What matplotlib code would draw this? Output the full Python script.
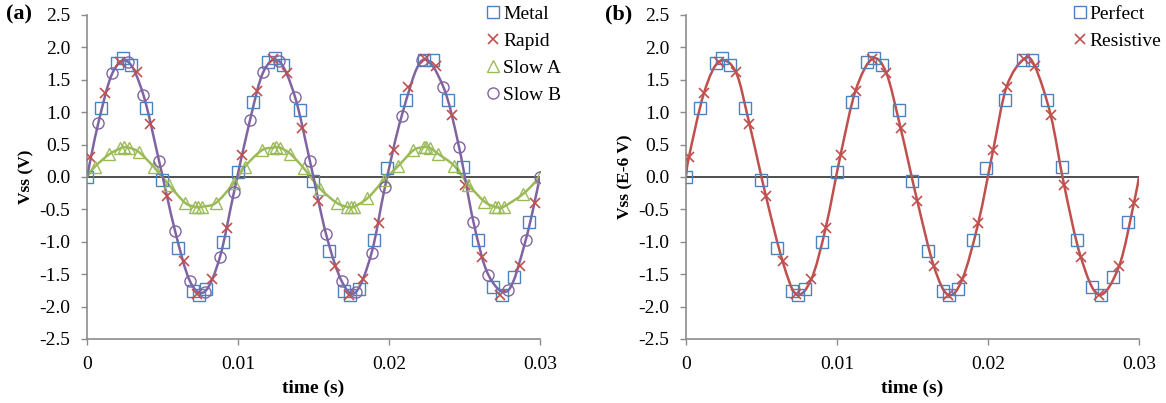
"""Plot steady-state voltage against time for the four materials and the two wall models."""

from __future__ import annotations

import matplotlib

matplotlib.use("Agg")
import matplotlib.pyplot as plt
from matplotlib.lines import Line2D
from matplotlib.patches import PathPatch
from matplotlib.path import Path


METAL_T = [0.0, 0.0009, 0.0020, 0.0024, 0.0029, 0.0039, 0.0050, 0.0060, 0.0070, 0.0074, 0.0079, 0.0090,
           0.0100, 0.0110, 0.0120, 0.01245, 0.0130, 0.0141, 0.0150, 0.0160, 0.0170, 0.0174, 0.0180, 0.0190,
           0.0199, 0.0211, 0.0223, 0.0229, 0.0239, 0.0249, 0.0259, 0.0269, 0.02746, 0.0283, 0.0293]
METAL_V = [0.0, 1.07, 1.76, 1.83, 1.73, 1.07, -0.05, -1.10, -1.76, -1.82, -1.73, -1.00,
           0.07, 1.15, 1.77, 1.83, 1.73, 1.03, -0.07, -1.14, -1.76, -1.82, -1.73, -0.98,
           0.13, 1.18, 1.80, 1.80, 1.19, 0.15, -0.97, -1.70, -1.82, -1.55, -0.69]

RAPID_T = [0.0002, 0.0012, 0.0022, 0.0033, 0.0042, 0.0053, 0.0064, 0.0073, 0.0083, 0.00925,
           0.01024, 0.01123, 0.01233, 0.01326, 0.01422, 0.01532, 0.01642, 0.01737, 0.0183, 0.01936,
           0.02035, 0.02123, 0.02238, 0.0231, 0.02416, 0.02504, 0.02614, 0.02735, 0.02868, 0.02967]
RAPID_V = [0.31, 1.30, 1.78, 1.62, 0.82, -0.30, -1.30, -1.81, -1.58, -0.79,
           0.34, 1.33, 1.82, 1.61, 0.75, -0.37, -1.38, -1.82, -1.58, -0.71,
           0.42, 1.39, 1.82, 1.71, 0.95, -0.12, -1.23, -1.82, -1.38, -0.40]

SLOW_A_T = [0.0, 0.00053, 0.00148, 0.0022, 0.00245, 0.0028, 0.00346, 0.00444, 0.00545, 0.0065, 0.00715,
            0.00737, 0.0076, 0.00854, 0.00974, 0.01046, 0.01157, 0.01232, 0.01254, 0.0128, 0.01345,
            0.01437, 0.01543, 0.01654, 0.01722, 0.01748, 0.0177, 0.01857, 0.01967, 0.02062, 0.02161,
            0.0223, 0.02245, 0.0227, 0.02323, 0.02433, 0.02526, 0.02632, 0.0270, 0.02725, 0.0276,
            0.0289, 0.0300]
SLOW_A_V = [0.0, 0.16, 0.35, 0.44, 0.46, 0.45, 0.38, 0.15, -0.13, -0.40, -0.46,
            -0.47, -0.46, -0.40, -0.09, 0.16, 0.41, 0.45, 0.46, 0.45, 0.36,
            0.13, -0.18, -0.40, -0.46, -0.47, -0.46, -0.33, -0.05, 0.17, 0.41,
            0.46, 0.46, 0.45, 0.36, 0.17, -0.12, -0.38, -0.46, -0.47, -0.46,
            -0.26, 0.0]

SLOW_B_T = [0.0, 0.00075, 0.00168, 0.0027, 0.00373, 0.00477, 0.00583, 0.00682, 0.0078, 0.0088, 0.00974,
            0.0108, 0.01168, 0.0127, 0.01377, 0.01477, 0.01583, 0.01687, 0.0178, 0.01885, 0.01974,
            0.02084, 0.0222, 0.0236, 0.02464, 0.02559, 0.02658, 0.0279, 0.02906, 0.0300]
SLOW_B_V = [0.0, 0.83, 1.60, 1.78, 1.27, 0.25, -0.83, -1.61, -1.77, -1.24, -0.23,
            0.88, 1.62, 1.79, 1.24, 0.24, -0.88, -1.61, -1.78, -1.17, -0.15,
            0.94, 1.80, 1.39, 0.46, -0.69, -1.51, -1.75, -0.97, 0.0]

# panel (b): same sampling as Metal / Rapid, in units of 1e-6 V
PERFECT_T = METAL_T
PERFECT_V = METAL_V
RESISTIVE_T = RAPID_T
RESISTIVE_V = RAPID_V
RESISTIVE_ENDS_T = [0.0, 0.03]
RESISTIVE_ENDS_V = [0.0, 0.0]

X_TICKS = [0.0, 0.01, 0.02, 0.03]
X_TICK_LABELS = ["0", "0.01", "0.02", "0.03"]
Y_TICKS = [-2.5, -2.0, -1.5, -1.0, -0.5, 0.0, 0.5, 1.0, 1.5, 2.0, 2.5]

BLUE = "#4F81BD"
RED = "#C0504D"
GREEN = "#9BBB59"
PURPLE = "#8064A2"
SPINE = "#8C8C8C"
SERIF = "Liberation Serif"


def main() -> int:
    plt.rcParams["font.family"] = SERIF
    plt.rcParams["font.size"] = 14

    fig = plt.figure(figsize=(11.66, 4.03), dpi=100)
    ax_a = fig.add_axes((0.0746, 0.159, 0.3885, 0.804))
    ax_b = fig.add_axes((0.5883, 0.159, 0.3885, 0.804))

    _smooth_line(ax_a, SLOW_A_T, SLOW_A_V, GREEN)
    _smooth_line(ax_a, SLOW_B_T, SLOW_B_V, PURPLE)
    _markers(ax_a, METAL_T, METAL_V, "s", BLUE)
    _markers(ax_a, RAPID_T, RAPID_V, "x", RED)
    _markers(ax_a, SLOW_A_T[1:], SLOW_A_V[1:], "^", GREEN)
    _markers(ax_a, SLOW_B_T[1:], SLOW_B_V[1:], "o", PURPLE)

    line_t = RESISTIVE_ENDS_T[:1] + RESISTIVE_T + RESISTIVE_ENDS_T[1:]
    line_v = RESISTIVE_ENDS_V[:1] + RESISTIVE_V + RESISTIVE_ENDS_V[1:]
    _smooth_line(ax_b, line_t, line_v, RED)
    _markers(ax_b, PERFECT_T, PERFECT_V, "s", BLUE)
    _markers(ax_b, RESISTIVE_T, RESISTIVE_V, "x", RED)

    for ax, ylabel in ((ax_a, "Vss (V)"), (ax_b, "Vss (E-6 V)")):
        _style_axes(ax, ylabel)

    _legend(ax_a, [("Metal", "s", BLUE), ("Rapid", "x", RED), ("Slow A", "^", GREEN), ("Slow B", "o", PURPLE)],
            (0.879, 1.03))
    _legend(ax_b, [("Perfect", "s", BLUE), ("Resistive", "x", RED)], (0.852, 1.03))

    fig.text(0.005, 0.963, "(a)", fontsize=16, fontweight="bold", va="center")
    fig.text(0.519, 0.963, "(b)", fontsize=16, fontweight="bold", va="center")

    fig.savefig("out.png", dpi=100)
    plt.close(fig)
    return 0


def _smooth_line(ax, xs, ys, color):
    # Catmull-Rom through the points, drawn as cubic Bezier segments (like a spreadsheet "smoothed line")
    pts = list(zip(xs, ys))
    verts = [pts[0]]
    codes = [Path.MOVETO]
    for i in range(len(pts) - 1):
        p0 = pts[max(i - 1, 0)]
        p1 = pts[i]
        p2 = pts[i + 1]
        p3 = pts[min(i + 2, len(pts) - 1)]
        c1 = (p1[0] + (p2[0] - p0[0]) / 6.0, p1[1] + (p2[1] - p0[1]) / 6.0)
        c2 = (p2[0] - (p3[0] - p1[0]) / 6.0, p2[1] - (p3[1] - p1[1]) / 6.0)
        verts.extend([c1, c2, p2])
        codes.extend([Path.CURVE4] * 3)
    patch = PathPatch(Path(verts, codes), facecolor="none", edgecolor=color, linewidth=1.8, zorder=2)
    ax.add_patch(patch)


def _markers(ax, xs, ys, marker, color):
    if marker == "x":
        ax.plot(xs, ys, linestyle="none", marker="x", markersize=7.5, markeredgewidth=1.2, color=color, zorder=3)
    else:
        ax.plot(xs, ys, linestyle="none", marker=marker, markersize=8, markeredgewidth=1.0,
                markerfacecolor="none", markeredgecolor=color, zorder=3)


def _style_axes(ax, ylabel):
    ax.set_xlim(0.0, 0.03)
    ax.set_ylim(-2.5, 2.5)
    ax.axhline(0.0, color="#404040", linewidth=1.3, zorder=1)
    ax.set_xticks(X_TICKS)
    ax.set_xticklabels(X_TICK_LABELS)
    ax.set_yticks(Y_TICKS)
    ax.set_yticklabels([f"{v:.1f}" for v in Y_TICKS])
    ax.tick_params(direction="out", length=4, width=1.0, color=SPINE, labelsize=14, pad=8)
    for side in ("top", "right"):
        ax.spines[side].set_visible(False)
    for side in ("left", "bottom"):
        ax.spines[side].set_color(SPINE)
        ax.spines[side].set_linewidth(1.2)
    ax.set_xlabel("time (s)", fontsize=14, fontweight="bold")
    ax.xaxis.set_label_coords(0.5, -0.125)
    ax.set_ylabel(ylabel, fontsize=12.5, fontweight="bold")
    ax.yaxis.set_label_coords(-0.115, 0.5)


def _legend(ax, entries, anchor):
    handles = []
    for label, marker, color in entries:
        if marker == "x":
            handle = Line2D([], [], linestyle="none", marker="x", markersize=7.5, markeredgewidth=1.2,
                            color=color, label=label)
        else:
            handle = Line2D([], [], linestyle="none", marker=marker, markersize=8, markeredgewidth=1.0,
                            markerfacecolor="none", markeredgecolor=color, label=label)
        handles.append(handle)
    ax.legend(handles=handles, loc="upper left", bbox_to_anchor=anchor, frameon=False, fontsize=14,
              handlelength=0.8, handletextpad=0.12, labelspacing=0.49, borderaxespad=0.0, borderpad=0.0)


if __name__ == "__main__":
    raise SystemExit(main())
